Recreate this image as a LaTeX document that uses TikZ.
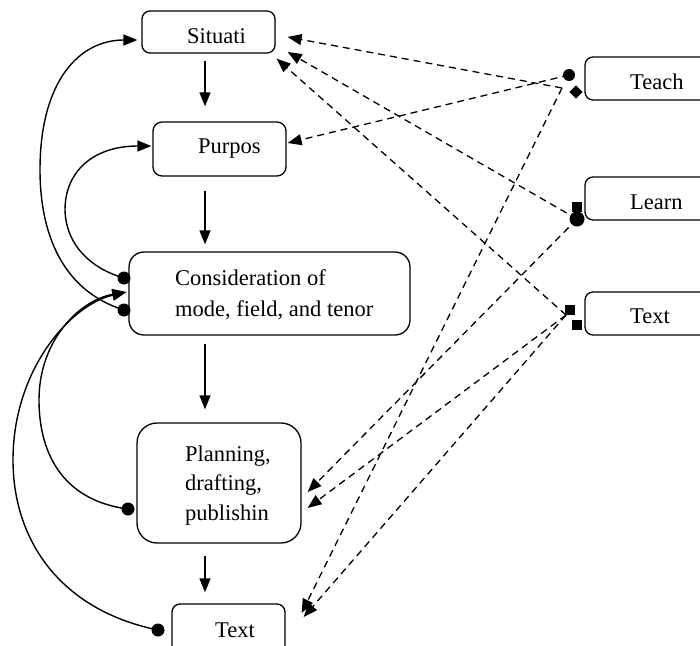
\documentclass[tikz,border=0pt]{standalone}
\usepackage{fontspec}
\setmainfont{Liberation Serif}
\usetikzlibrary{arrows.meta}
\begin{document}
\begin{tikzpicture}[x=1pt,y=-1pt,
  box/.style={draw,line width=1.3pt,rounded corners=#1,inner sep=0pt},
  box/.default=8pt,
  lbl/.style={anchor=base west,inner sep=0pt,font=\fontsize{22.5}{30}\selectfont},
  arr/.style={line width=1.4pt,-{Triangle[length=14pt,width=11pt]}},
  darr/.style={line width=1.3pt,dash pattern=on 7pt off 5pt,-{Triangle[length=14pt,width=11pt]}},
  dotm/.style={circle,fill,inner sep=0pt,minimum size=#1},
  sqm/.style={rectangle,fill,inner sep=0pt,minimum size=10pt},
]
\useasboundingbox (0,0) rectangle (700,645);
\clip (0,0) rectangle (700,645);

% boxes
\node[box=8pt,minimum width=133pt,minimum height=42pt] (sit) at (208.5,32) {};
\node[box=9pt,minimum width=133pt,minimum height=54pt] (pur) at (219.5,149) {};
\node[box=15pt,minimum width=281pt,minimum height=83pt] (con) at (269.5,293.5) {};
\node[box=20pt,minimum width=164pt,minimum height=120pt] (pla) at (219,483) {};
\node[box=8pt,minimum width=113pt,minimum height=56pt] (txt) at (228.5,632) {};
\node[box=8pt,minimum width=125pt,minimum height=43pt] (tea) at (647.5,78.5) {};
\node[box=8pt,minimum width=125pt,minimum height=43pt] (lea) at (647.5,198.5) {};
\node[box=8pt,minimum width=125pt,minimum height=43pt] (xtx) at (647.5,313.5) {};

% texts
\node[lbl] (sitT) at (187,43.5) {Situati};
\node[lbl] (purT) at (198,153) {Purpos};
\node[lbl] (conT1) at (175,285) {Consideration of};
\node[lbl] (conT2) at (175,316) {mode, field, and tenor};
\node[lbl] (plaT1) at (185,461) {Planning,};
\node[lbl] (plaT2) at (185,490) {drafting,};
\node[lbl] (plaT3) at (185,520) {publishin};
\node[lbl] (txtT) at (215,637) {Text};
\node[lbl] (teaT) at (630,89) {Teach};
\node[lbl] (leaT) at (630,209) {Learn};
\node[lbl] (xtxT) at (630,323) {Text};

% markers
\node[dotm=13pt] (cd1) at (124,278) {};
\node[dotm=13pt] (cd2) at (124,310) {};
\node[dotm=13pt] (pd) at (128,509) {};
\node[dotm=13pt] (td) at (158,630) {};
\node[dotm=12pt] (tdot) at (569,75) {};
\node[rectangle,fill,inner sep=0pt,minimum size=9.5pt,rotate=45] (tdia) at (576,92) {};
\node[sqm] (lsq) at (577,207) {};
\node[dotm=15pt] (lcir) at (577,219) {};
\node[sqm] (xsq1) at (570,310) {};
\node[sqm] (xsq2) at (577,325) {};

% vertical arrows
\coordinate (ax) at (205,0);
\draw[arr,shorten <=7pt,shorten >=15pt] (sit.south -| ax) -- (pur.north -| ax);
\draw[arr,shorten <=14pt,shorten >=7pt] (pur.south -| ax) -- (con.north -| ax);
\draw[arr,shorten <=8pt,shorten >=13pt] (con.south -| ax) -- (pla.north -| ax);
\draw[arr,shorten <=12pt,shorten >=11pt] (pla.south -| ax) -- (txt.north -| ax);

% left feedback curves
\draw[arr] (cd2.center) .. controls (60,290) and (40,230) .. (40,170)
  .. controls (40,80) and (80,40) .. ([xshift=-4pt,yshift=-8pt]sit.west);
\draw[arr] (cd1.center) .. controls (95,270) and (66,248) .. (65,210)
  .. controls (65,170) and (95,146) .. ([xshift=-1pt,yshift=3pt]pur.west);
\draw[arr] (pd.center) .. controls (60,500) and (39,450) .. (39,400)
  .. controls (39,340) and (80,300) .. ([xshift=-2pt,yshift=1.5pt]con.west);
\draw[arr] (td.center) .. controls (60,610) and (13,540) .. (13,460)
  .. controls (13,370) and (70,305) .. ([xshift=-2pt,yshift=1.5pt]con.west);

% dashed connectors
\coordinate (tj) at ([xshift=-14pt,yshift=4pt]tdia.center);
\coordinate (xj) at ([xshift=-4pt,yshift=-5pt]xsq1.center);
\draw[darr] (tdot.center) -- ([xshift=1pt,yshift=6pt]pur.east);
\draw[darr] (tj) -- ([xshift=12pt,yshift=-5pt]sit.east);
\draw[darr] (tj) -- ([xshift=16pt,yshift=19pt]txt.east);
\draw[darr] (lcir.center) -- ([xshift=12pt,yshift=-20pt]sit.east);
\draw[darr] (lcir.center) -- ([xshift=6pt,yshift=-9pt]pla.east);
\draw[darr] (xj) -- ([xshift=1pt,yshift=-5pt]sit.south east);
\draw[darr] (xj) -- ([xshift=6pt,yshift=-25pt]pla.east);
\draw[darr] (xj) -- ([xshift=18pt,yshift=15pt]txt.east);
\end{tikzpicture}
\end{document}
